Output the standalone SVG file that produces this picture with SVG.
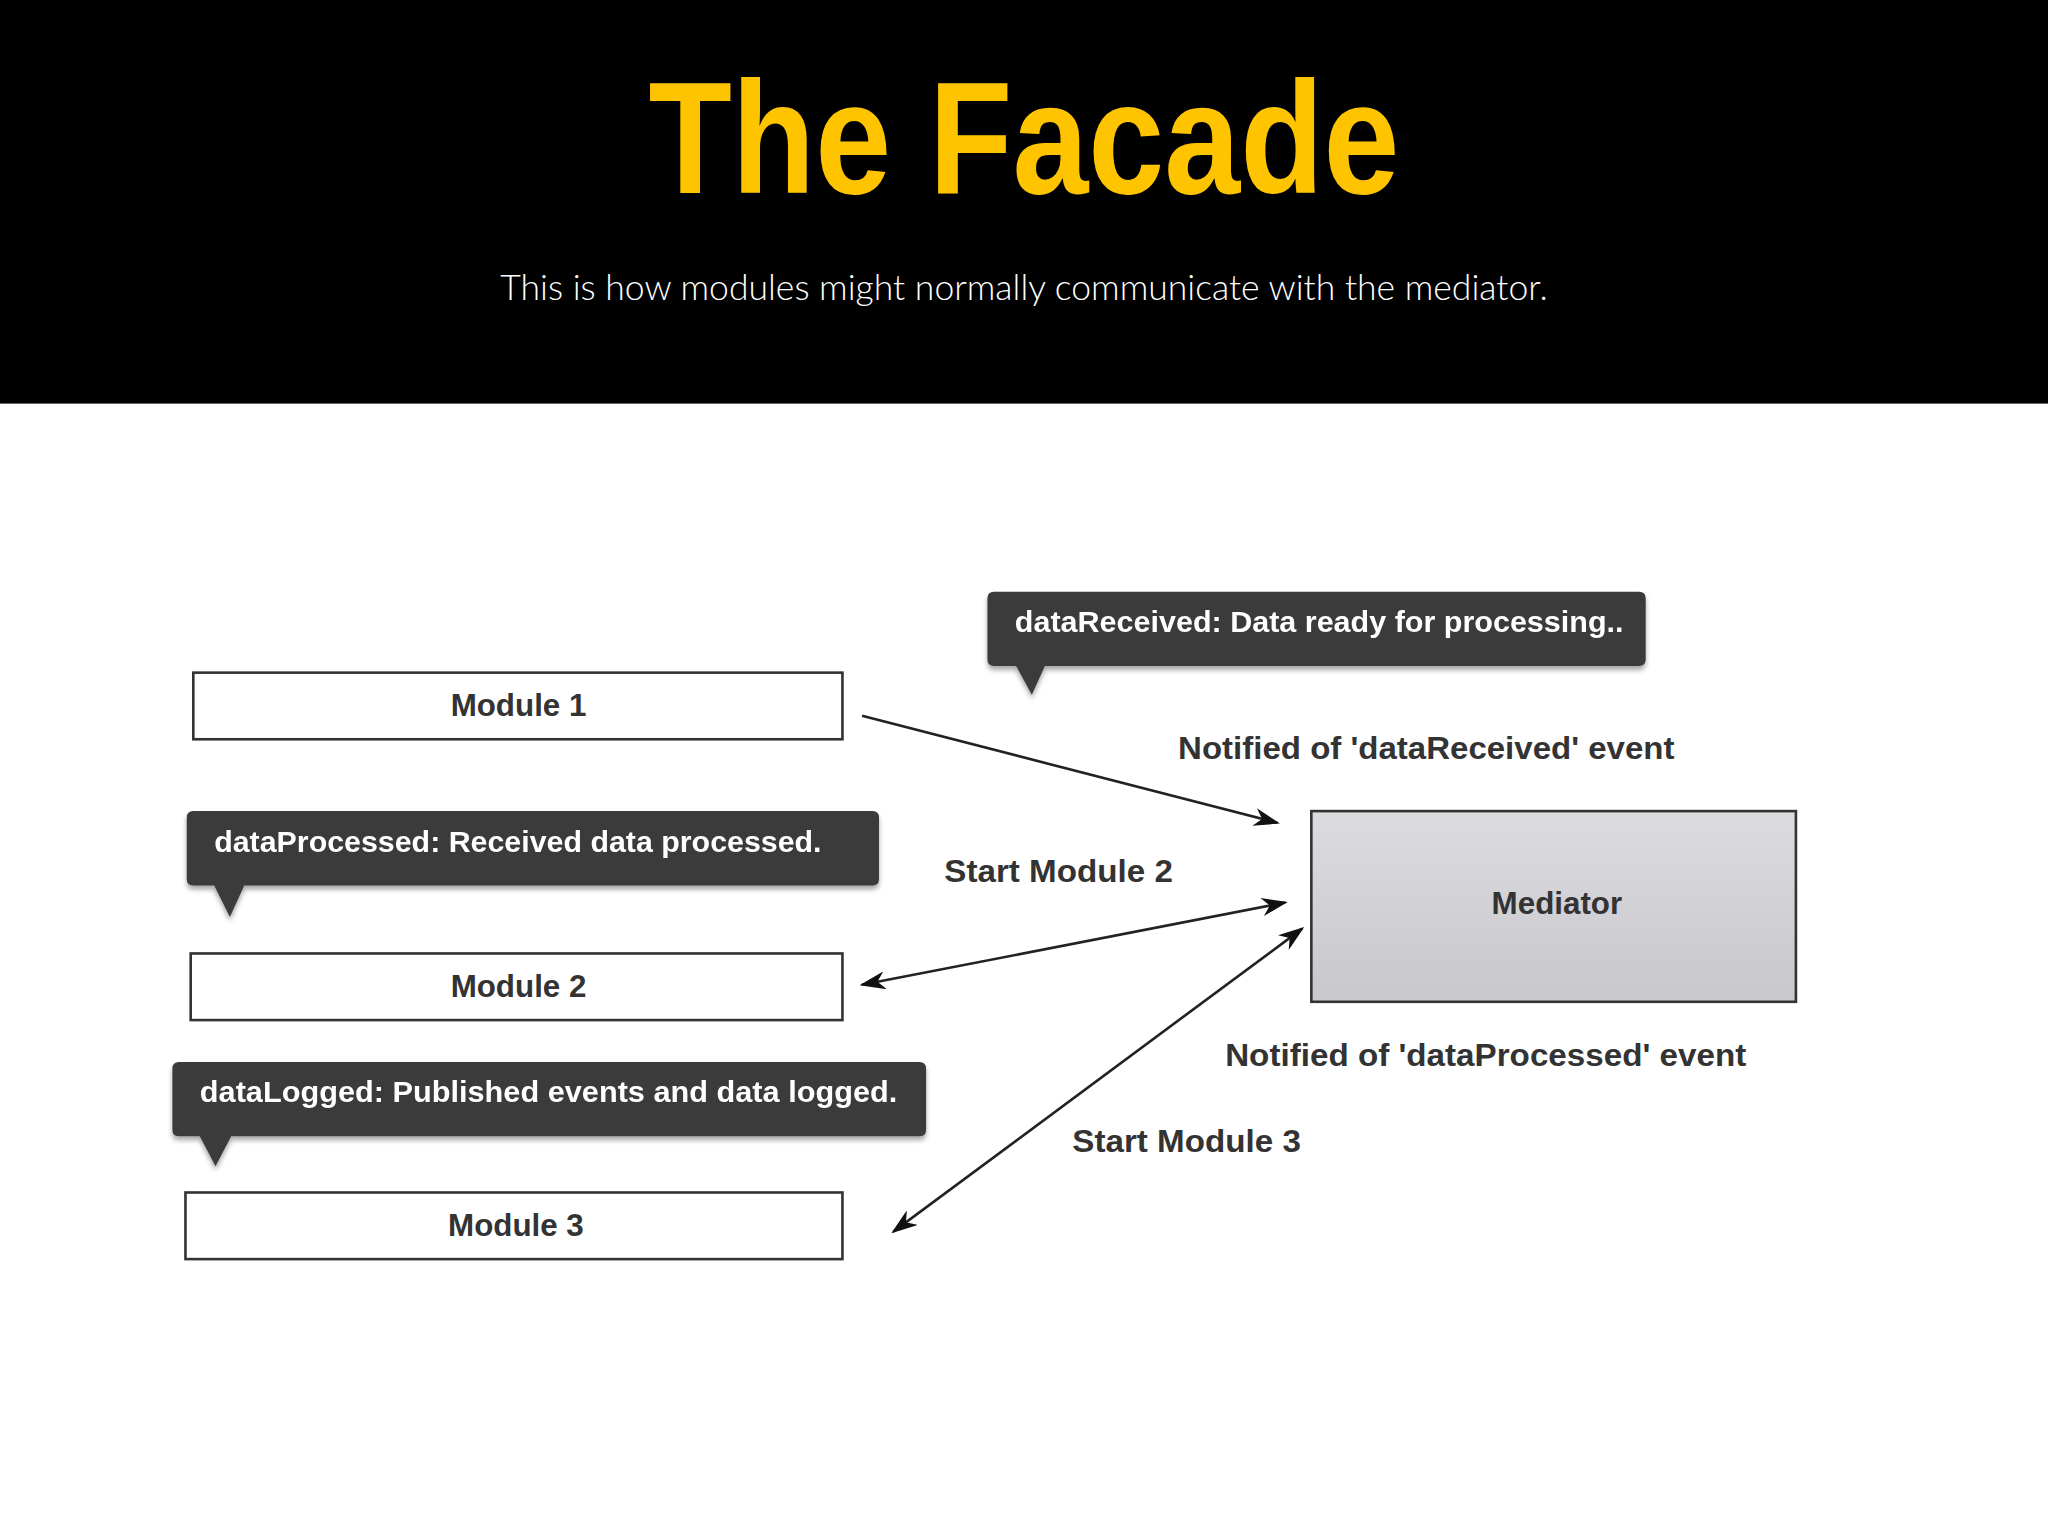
<svg xmlns="http://www.w3.org/2000/svg" width="2048" height="1536" viewBox="0 0 2048 1536">
<defs>
<style>
.mod{fill:#fff;stroke:#333;stroke-width:2}
.mt{font-family:"Liberation Sans",Arial,sans-serif;font-weight:bold;font-size:24px;fill:#333;text-anchor:middle}
.ct{font-family:"Liberation Sans",Arial,sans-serif;font-weight:bold;font-size:22px;fill:#fff}
.lb{font-family:"Liberation Sans",Arial,sans-serif;font-weight:bold;font-size:24px;fill:#333}
.cb{fill:#3a3a3a}
.ln{stroke:#222;stroke-width:2;fill:none}
</style>
<linearGradient id="g" x1="0" y1="0" x2="0" y2="1"><stop offset="0" stop-color="#dcdce0"/><stop offset="1" stop-color="#c8c8cc"/></linearGradient>
<marker id="ah" viewBox="0 0 20 14" refX="18" refY="7" markerWidth="20" markerHeight="14" markerUnits="userSpaceOnUse" orient="auto-start-reverse"><path d="M0,0 L20,7 L0,14 L6,7 Z" fill="#111"/></marker>
<filter id="sh" x="-5%" y="-10%" width="110%" height="130%"><feDropShadow dx="0" dy="3" stdDeviation="2" flood-color="#000" flood-opacity="0.35"/></filter>
</defs>
<rect width="2048" height="1536" fill="#fff"/>
<g transform="scale(1.30612)">
<g id="header">
<rect x="0" y="0" width="1568" height="309" fill="#000"/>
<text x="784" y="148" text-anchor="middle" textLength="575" lengthAdjust="spacingAndGlyphs" font-family="Liberation Sans,Arial,sans-serif" font-weight="bold" font-size="122" fill="#ffc400">The Facade</text>
<text x="784" y="230" text-anchor="middle" textLength="802" lengthAdjust="spacingAndGlyphs" font-family="Lato,Liberation Sans,sans-serif" font-weight="300" font-size="27" fill="#fff">This is how modules might normally communicate with the mediator.</text>
</g>
<g id="module1"><rect class="mod" x="148" y="515" width="497" height="51"/><text class="mt" x="397" y="548">Module 1</text></g>
<g id="module2"><rect class="mod" x="146" y="730" width="499" height="51"/><text class="mt" x="397" y="763">Module 2</text></g>
<g id="module3"><rect class="mod" x="142" y="913" width="503" height="51"/><text class="mt" x="395" y="946">Module 3</text></g>
<g id="mediator"><rect x="1004" y="621" width="371" height="146" fill="url(#g)" stroke="#333" stroke-width="2"/><text class="mt" x="1192" y="700">Mediator</text></g>
<g id="callout1" filter="url(#sh)"><path class="cb" d="M761,453 H1255 Q1260,453 1260,458 V505 Q1260,510 1255,510 H800 L790,532 L778,510 H761 Q756,510 756,505 V458 Q756,453 761,453 Z"/><text class="ct" x="777" y="484" textLength="466" lengthAdjust="spacingAndGlyphs">dataReceived: Data ready for processing..</text></g>
<g id="callout2" filter="url(#sh)"><path class="cb" d="M148,621 H668 Q673,621 673,626 V673 Q673,678 668,678 H187 L176,702 L164,678 H148 Q143,678 143,673 V626 Q143,621 148,621 Z"/><text class="ct" x="164" y="652" textLength="465" lengthAdjust="spacingAndGlyphs">dataProcessed: Received data processed.</text></g>
<g id="callout3" filter="url(#sh)"><path class="cb" d="M137,813 H704 Q709,813 709,818 V865 Q709,870 704,870 H177 L165,893 L153,870 H137 Q132,870 132,865 V818 Q132,813 137,813 Z"/><text class="ct" x="153" y="844" textLength="534" lengthAdjust="spacingAndGlyphs">dataLogged: Published events and data logged.</text></g>
<g id="connectors">
<line class="ln" x1="660" y1="548" x2="978" y2="630" marker-end="url(#ah)"/>
<line class="ln" x1="660" y1="754" x2="984" y2="691" marker-start="url(#ah)" marker-end="url(#ah)"/>
<line class="ln" x1="684" y1="943" x2="997" y2="711" marker-start="url(#ah)" marker-end="url(#ah)"/>
<text class="lb" x="902" y="581" textLength="380" lengthAdjust="spacingAndGlyphs">Notified of 'dataReceived' event</text>
<text class="lb" x="723" y="675" textLength="175" lengthAdjust="spacingAndGlyphs">Start Module 2</text>
<text class="lb" x="938" y="816" textLength="399" lengthAdjust="spacingAndGlyphs">Notified of 'dataProcessed' event</text>
<text class="lb" x="821" y="882" textLength="175" lengthAdjust="spacingAndGlyphs">Start Module 3</text>
</g>
</g>
</svg>
